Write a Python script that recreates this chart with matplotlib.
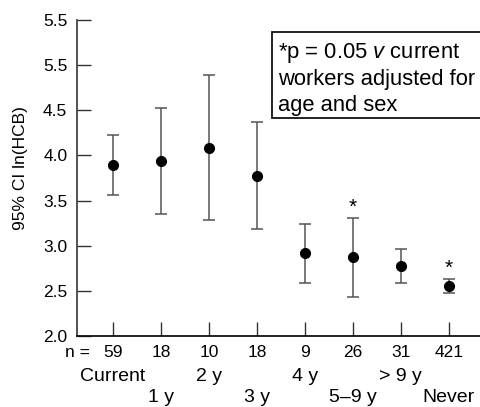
import matplotlib
matplotlib.use('Agg')
import matplotlib.pyplot as plt
from matplotlib.patches import Rectangle

plt.rcParams['font.family'] = ['Liberation Sans', 'DejaVu Sans']
plt.rcParams['mathtext.fontset'] = 'custom'
plt.rcParams['mathtext.it'] = 'Liberation Sans:italic'
plt.rcParams['mathtext.rm'] = 'Liberation Sans'

# data
groups = ['Current', '1 y', '2 y', '3 y', '4 y', '5\u20139 y', '> 9 y', 'Never']
n_values = ['59', '18', '10', '18', '9', '26', '31', '421']
means = [3.89, 3.94, 4.08, 3.77, 2.92, 2.87, 2.78, 2.55]
upper = [4.23, 4.53, 4.89, 4.37, 3.24, 3.31, 2.96, 2.63]
lower = [3.56, 3.35, 3.29, 3.19, 2.59, 2.43, 2.59, 2.48]
significant = [False, False, False, False, False, True, False, True]
ytick_vals = [2.0, 2.5, 3.0, 3.5, 4.0, 4.5, 5.0, 5.5]
ytick_labels = ['2.0', '2.5', '3.0', '3.5', '4.0', '4.5', '5.5', '5.5']

xs = list(range(1, len(groups) + 1))
err_lo = [m - l for m, l in zip(means, lower)]
err_hi = [u - m for m, u in zip(means, upper)]

fig = plt.figure(figsize=(4.8, 4.07), dpi=100)
ax = fig.add_axes([0.1604, 0.1744, 0.8396, 0.7764])

ax.errorbar(xs, means, yerr=[err_lo, err_hi], fmt='o', color='black', ms=7,
            ecolor='#555555', elinewidth=1.1, capsize=4.3, capthick=1.1)

for x, u, s in zip(xs, upper, significant):
	if s:
		ax.annotate('*', xy=(x, u), xytext=(0, 1), textcoords='offset points',
		            ha='center', va='bottom', fontsize=15)

ax.set_xlim(0.25, 8.65)
ax.set_ylim(2.0, 5.5)
ax.set_yticks(ytick_vals)
ax.set_yticklabels(ytick_labels, fontsize=12.5)
ax.set_xticks(xs)
ax.tick_params(axis='both', direction='in', length=10, width=1, color='#333333')
ax.tick_params(axis='y', pad=7)
ax.tick_params(axis='x', labelbottom=False)

for side in ['top', 'right']:
	ax.spines[side].set_visible(False)
ax.spines['left'].set_color('#444444')
ax.spines['left'].set_linewidth(1.3)
ax.spines['bottom'].set_color('#111111')
ax.spines['bottom'].set_linewidth(1.3)

ax.set_ylabel('95% CI ln(HCB)', fontsize=12.5)
ax.yaxis.set_label_coords(-0.122, 0.53)

# n row and group names below the axis
ax.annotate('n =', xy=(0.25, 0), xycoords=('data', 'axes fraction'), xytext=(0, -12.2),
            textcoords='offset points', ha='center', va='center', fontsize=12.5)
for i, x in enumerate(xs):
	ax.annotate(n_values[i], xy=(x, 0), xycoords=('data', 'axes fraction'), xytext=(0, -12.2),
	            textcoords='offset points', ha='center', va='center', fontsize=12.5)
	off = -29.5 if i % 2 == 0 else -44.6
	ax.annotate(groups[i], xy=(x, 0), xycoords=('data', 'axes fraction'), xytext=(0, off),
	            textcoords='offset points', ha='center', va='center', fontsize=14)

# note box, running off the right edge like the reference
ax.add_patch(Rectangle((0.484, 0.691), 0.6, 0.271, transform=ax.transAxes,
                       fc='white', ec='#111111', lw=1.3, clip_on=False))
ax.text(0.498, 0.935, '*p = 0.05 $v$ current\nworkers adjusted for\nage and sex',
        transform=ax.transAxes, ha='left', va='top', fontsize=15.8, linespacing=1.3)

fig.savefig('out.png', dpi=100)
